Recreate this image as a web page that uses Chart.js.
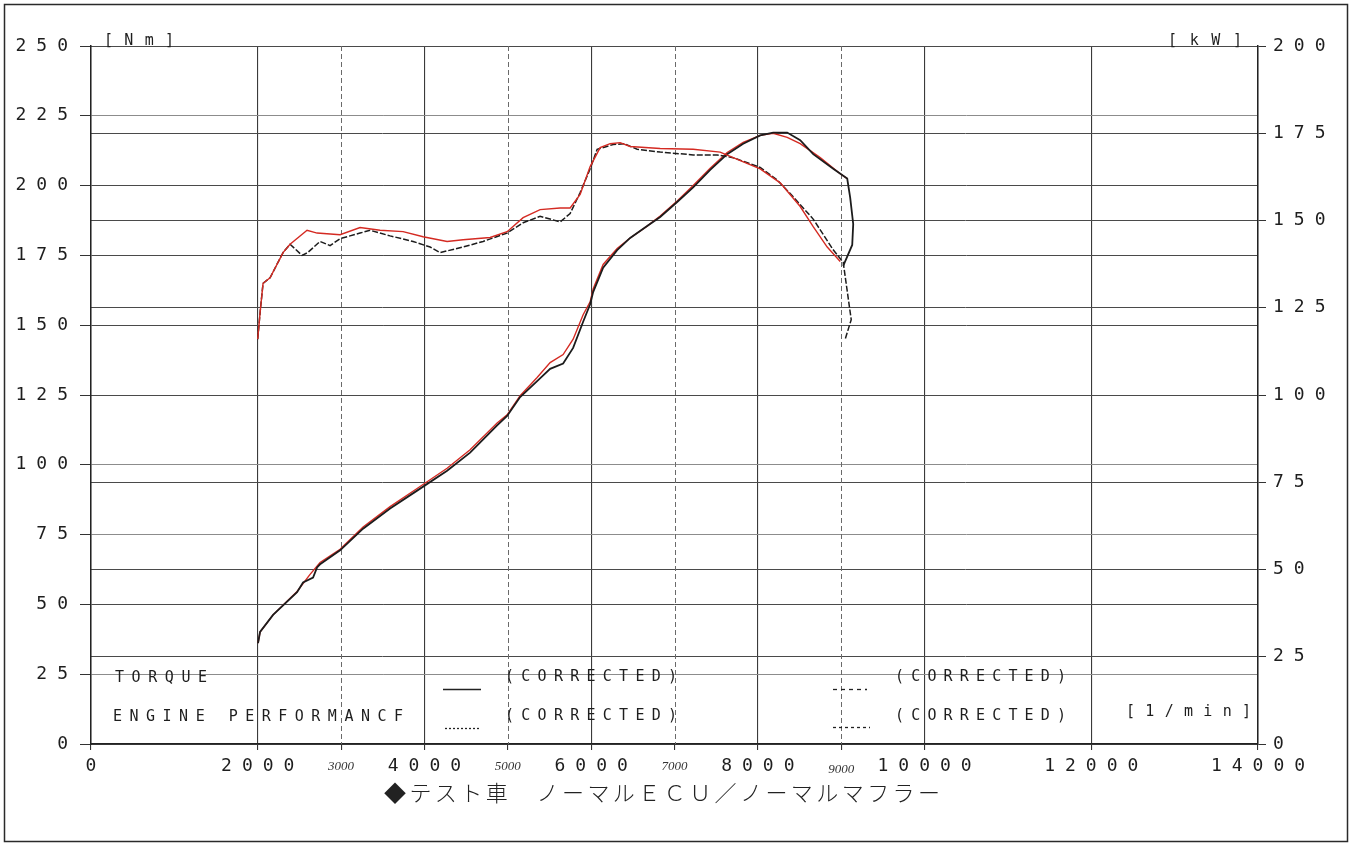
<!DOCTYPE html>
<html><head><meta charset="utf-8">
<script src="https://cdn.jsdelivr.net/npm/chart.js@4.4.1/dist/chart.umd.min.js"></script>
<style>html,body{margin:0;padding:0;background:#fff;}#wrap{width:1354px;height:845px;position:relative;}</style>
</head><body><div id="wrap"><canvas id="c"></canvas></div>
<script>
// ---- axis / tick data ----
const xTickValues = [0,2000,3000,4000,5000,6000,7000,8000,9000,10000,12000,14000];
const handTickValues = [3000,5000,7000,9000];
const fadedTorqueGrid = [225,100,75,25];

// ---- torque [Nm] (left axis) ----
const torqueRedRpm = [2000,2030,2064,2148,2304,2388,2592,2712,2988,3228,3468,3744,3984,4272,4464,4788,4992,5184,5388,5628,5748,5868,5988,6108,6228,6348,6468,6828,7224,7548,7704,8028,8268,8508,8664,8832,8988];
const torqueRedNm  = [145,155,165,167,176,179,184,183,182.4,185,184,183.5,181.7,180,180.6,181.4,183.5,188.5,191.4,192,192,196.8,206.8,213.6,215,215.4,214,213.3,213,212,210,206,201,192.5,185.3,178,172.8];
const torqueBlackRpm = [2000,2030,2064,2148,2304,2388,2460,2532,2600,2748,2868,2988,3228,3348,3588,3864,4068,4188,4464,4704,4992,5184,5388,5628,5748,5868,5988,6072,6264,6396,6552,6828,7224,7512,7704,8028,8232,8424,8664,8904,9024,9120,9048];
const torqueBlackNm  = [145,155,165,167,176,179,177,175,176,180,178.5,181,183,184,182,180,178,176,178,180,183,186.7,189,187,190,197.5,206,213,214.7,215,213,212,211,211,210,206.5,202,196,188,177,172.5,152,145];

// ---- power [kW] (right axis) ----
const powerRedRpm = [2004,2028,2184,2472,2628,2748,2988,3264,3588,3912,4272,4548,4872,4992,5148,5352,5508,5664,5784,5904,5988,6024,6144,6312,6468,6672,6828,7032,7224,7428,7632,7824,8028,8184,8352,8508,8748,8988,9072];
const powerRedKw  = [28.9,32.1,37,43.7,48.6,52,55.8,62.2,68,73.2,79,84.3,92,94.3,99.8,105,109.3,111.6,116,123,126.7,130.4,137.4,142,145,148.4,151.3,155.6,160,165,169.5,172.4,174.4,175,173.8,172,168,163.4,162];
const powerBlackRpm = [2004,2028,2184,2472,2544,2664,2712,2748,2988,3264,3588,3912,4272,4548,4872,4992,5148,5352,5508,5664,5784,5904,5988,6024,6144,6312,6468,6672,6828,7032,7224,7428,7632,7824,8028,8184,8352,8508,8664,8904,9072,9108,9144,9132,9024];
const powerBlackKw  = [28.9,32.1,37,43.5,46.3,47.7,50.6,51.5,55.5,61.7,67.5,72.6,78.3,83.5,91.3,94,99.4,104,107.5,109,113.5,121,126,129.5,136.5,141.5,145,148.4,151,155.3,159.5,164.5,169,172,174.4,175.2,175.2,173,169,164.8,162,156.5,149,143,137];

const zip = (xs, ys) => xs.map((x, i) => ({x, y: ys[i]}));
const MONO = "'DejaVu Sans Mono', 'Liberation Mono', monospace";

function drawFitted(ctx, text, x0, x1, yc, font, color) {
  ctx.save();
  ctx.font = font; ctx.fillStyle = color; ctx.textBaseline = 'middle'; ctx.textAlign = 'left';
  if ('letterSpacing' in ctx) ctx.letterSpacing = '0px';
  const chars = Array.from(text);
  const w = chars.map(c => ctx.measureText(c).width);
  const total = w.reduce((a, b) => a + b, 0);
  const sp = chars.length > 1 ? (x1 - x0 - total) / (chars.length - 1) : 0;
  let x = x0;
  chars.forEach((c, i) => { ctx.fillText(c, x, yc); x += w[i] + sp; });
  ctx.restore();
}

const decor = {
  id: 'decor',
  beforeDraw(chart) {
    if ('letterSpacing' in chart.ctx) chart.ctx.letterSpacing = '10px';
  },
  beforeDatasetsDraw(chart) {
    const {ctx, chartArea: a, scales: {x}} = chart;
    ctx.save();
    ctx.strokeStyle = '#6a6a6a'; ctx.lineWidth = 1; ctx.setLineDash([5, 3]);
    handTickValues.forEach(v => {
      const px = Math.round(x.getPixelForValue(v)) + 0.5;
      ctx.beginPath(); ctx.moveTo(px, a.top); ctx.lineTo(px, a.bottom); ctx.stroke();
    });
    ctx.restore();
  },
  afterDraw(chart) {
    const {ctx, scales: {x}} = chart;
    if ('letterSpacing' in ctx) ctx.letterSpacing = '0px';
    ctx.save();
    ctx.strokeStyle = '#2a2a2a'; ctx.lineWidth = 1.5;
    ctx.strokeRect(4.5, 4.5, 1343, 837);
    ctx.restore();
    const f15 = "15px " + MONO, c = '#1e1e1e';
    drawFitted(ctx, '[Nm]', 104, 174, 41, f15, c);
    drawFitted(ctx, '[kW]', 1168, 1242, 41, f15, c);
    drawFitted(ctx, '[1/min]', 1126, 1251, 712, f15, c);
    drawFitted(ctx, 'TORQUE', 115, 207, 678, f15, c);
    drawFitted(ctx, 'ENGINE PERFORMANCF', 113, 403, 717, f15, c);
    drawFitted(ctx, '(CORRECTED)', 505, 677, 677, f15, c);
    drawFitted(ctx, '(CORRECTED)', 505, 677, 716, f15, c);
    drawFitted(ctx, '(CORRECTED)', 895, 1066, 677, f15, c);
    drawFitted(ctx, '(CORRECTED)', 895, 1066, 716, f15, c);
    ctx.save();
    ctx.strokeStyle = '#222'; ctx.lineWidth = 1.3;
    ctx.beginPath(); ctx.moveTo(443, 689.5); ctx.lineTo(481, 689.5); ctx.stroke();
    ctx.setLineDash([2, 2]);
    ctx.beginPath(); ctx.moveTo(445, 728.5); ctx.lineTo(481, 728.5); ctx.stroke();
    ctx.setLineDash([4, 4]);
    ctx.beginPath(); ctx.moveTo(833, 689.5); ctx.lineTo(867, 689.5); ctx.stroke();
    ctx.setLineDash([3, 3]);
    ctx.beginPath(); ctx.moveTo(833, 727.5); ctx.lineTo(870, 727.5); ctx.stroke();
    ctx.restore();
    ctx.save();
    ctx.font = "italic 13px 'Liberation Serif', serif"; ctx.fillStyle = '#333';
    ctx.textAlign = 'center'; ctx.textBaseline = 'middle';
    handTickValues.forEach((v, i) => ctx.fillText(String(v), x.getPixelForValue(v), 767 + (i === 3 ? 3 : 0)));
    ctx.restore();
    drawFitted(ctx, '◆テスト車　ノーマルＥＣＵ／ノーマルマフラー', 384, 940, 793,
      "300 22px 'Noto Sans CJK JP', sans-serif", '#222');
  }
};

const tickFont = {family: MONO, size: 18};
new Chart(document.getElementById('c'), {
  type: 'scatter',
  data: {
    datasets: [
      {label: 'Torque (red)', data: zip(torqueRedRpm, torqueRedNm), yAxisID: 'yT', borderColor: '#d42a22', borderWidth: 1.4, order: 1},
      {label: 'Torque (black)', data: zip(torqueBlackRpm, torqueBlackNm), yAxisID: 'yT', borderColor: '#1c1c1c', borderWidth: 1.5, borderDash: [6, 2], order: 2},
      {label: 'Power (black)', data: zip(powerBlackRpm, powerBlackKw), yAxisID: 'yP', borderColor: '#1c1c1c', borderWidth: 1.8, order: 3},
      {label: 'Power (red)', data: zip(powerRedRpm, powerRedKw), yAxisID: 'yP', borderColor: '#d42a22', borderWidth: 1.4, order: 4}
    ].map(d => Object.assign({showLine: true, pointRadius: 0, pointHoverRadius: 0, tension: 0, fill: false}, d))
  },
  options: {
    responsive: true, maintainAspectRatio: false, animation: false,
    layout: {padding: {top: 46, left: 0, right: 0, bottom: 0}},
    plugins: {legend: {display: false}, tooltip: {enabled: false}, title: {display: false}},
    scales: {
      x: {
        type: 'linear', min: 0, max: 14000,
        afterBuildTicks: s => { s.ticks = xTickValues.map(v => ({value: v})); },
        afterFit: s => { s.height = 101; },
        border: {color: '#222', width: 1.5},
        grid: {
          color: c => (c.tick && handTickValues.includes(c.tick.value)) ? 'rgba(0,0,0,0)' : '#3a3a3a',
          lineWidth: 1.1, tickLength: 6, tickColor: '#333'
        },
        ticks: {
          autoSkip: false, maxRotation: 0, padding: 6, labelOffset: 5, color: '#1e1e1e', font: tickFont,
          callback: v => handTickValues.includes(v) ? '' : String(v)
        }
      },
      yT: {
        position: 'left', min: 0, max: 250,
        afterFit: s => { s.width = 91; },
        border: {color: '#222', width: 1.5},
        grid: {
          color: c => (c.tick && fadedTorqueGrid.includes(c.tick.value)) ? '#8c8c8c' : '#4a4a4a',
          lineWidth: 1, tickLength: 11, tickColor: '#333'
        },
        ticks: {stepSize: 25, padding: 2, color: '#1e1e1e', font: tickFont}
      },
      yP: {
        position: 'right', min: 0, max: 200,
        afterFit: s => { s.width = 96; },
        border: {color: '#222', width: 1.5},
        grid: {color: '#4a4a4a', lineWidth: 1, tickLength: 8, tickColor: '#333', drawOnChartArea: true},
        ticks: {stepSize: 25, padding: 7, color: '#1e1e1e', font: tickFont}
      }
    }
  },
  plugins: [decor]
});
</script>
</body></html>
